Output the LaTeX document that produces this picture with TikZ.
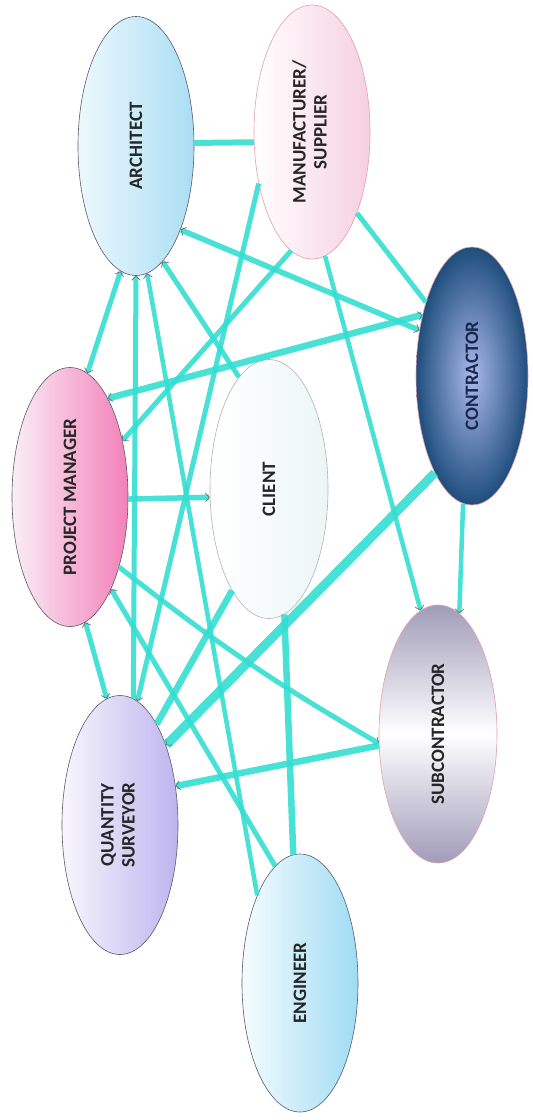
\documentclass[tikz,border=0pt]{standalone}
\usepackage{fontspec}
\usepackage{graphicx}
\setmainfont{Carlito}
\usetikzlibrary{shapes.geometric,arrows.meta}
\definecolor{cy}{RGB}{52,222,210}
\definecolor{bordgray}{RGB}{90,90,110}
\definecolor{bordpink}{RGB}{226,160,170}
\tikzset{
  gb/.tip={Straight Barb[length=4pt,width=9pt,line width=0.7pt 0,color=gray!80!black]},
  bub/.style={ellipse, inner sep=0pt, minimum width=116pt, minimum height=259pt,
    line width=0.6pt, font=\fontsize{19}{21}\selectfont\bfseries, text=black!85},
  con/.style={draw=cy, line width=5pt, draw opacity=0.9},
}
\begin{document}
\begin{tikzpicture}[x=1pt,y=-1pt]
\useasboundingbox[fill=white] (0,0) rectangle (533,1120);
% nodes
\node[bub, draw=bordgray, left color={rgb,255:red,236;green,249;blue,253}, right color={rgb,255:red,170;green,222;blue,244}] (A) at (136,146) {\rotatebox{90}{ARCHITECT}};
\node[bub, draw=bordpink, left color=white, right color={rgb,255:red,246;green,208;blue,224}, minimum height=254pt] (M) at (312,132) {\rotatebox{90}{\begin{tabular}{@{}c@{}}MANUFACTURER/\\SUPPLIER\end{tabular}}};
\node[bub, draw=bordpink, inner color={rgb,255:red,170;green,184;blue,236}, outer color={rgb,255:red,30;green,78;blue,124}, minimum width=112pt, minimum height=258pt, text={rgb,255:red,26;green,40;blue,80}] (C) at (472,376) {\rotatebox{90}{CONTRACTOR}};
\node[bub, draw=bordgray, left color={rgb,255:red,250;green,238;blue,245}, right color={rgb,255:red,243;green,128;blue,186}] (PM) at (70,497) {\rotatebox{90}{PROJECT MANAGER}};
\node[bub, draw=black!30, left color=white, right color={rgb,255:red,236;green,246;blue,246}, minimum width=118pt] (CL) at (269,489) {\rotatebox{90}{CLIENT}};
\node[bub, draw=bordpink, top color={rgb,255:red,160;green,156;blue,185}, bottom color={rgb,255:red,160;green,156;blue,185}, middle color=white, minimum width=118pt, minimum height=258pt] (S) at (438,734) {\rotatebox{90}{SUBCONTRACTOR}};
\node[bub, draw=bordgray, left color={rgb,255:red,248;green,246;blue,253}, right color={rgb,255:red,190;green,180;blue,238}] (QS) at (120,825) {\rotatebox{90}{\begin{tabular}{@{}c@{}}QUANTITY\\SURVEYOR\end{tabular}}};
\node[bub, draw=bordgray, left color={rgb,255:red,245;green,252;blue,254}, right color={rgb,255:red,160;green,220;blue,245}, minimum height=258pt] (E) at (300,983) {\rotatebox{90}{ENGINEER}};
% connectors
\draw[con, line width=6pt] (A.3) -- (M.190);
\draw[con, -gb] (M.224) -- (QS.82);
\draw[con, -gb] (M.260) -- (PM.47);
\draw[con, line width=4.5pt, -gb] (M.276) -- (S.98);
\draw[con] (M.299) -- (C.122);
\draw[con, line width=5.5pt, gb-gb] (A.298) -- (C.139);
\draw[con, line width=6.5pt, gb-gb] (PM.69) -- (C.129);
\draw[con, gb-gb] (A.263) -- (PM.82);
\draw[con, gb-] (A.270) -- (QS.84);
\draw[con, line width=4.5pt, gb-] (A.275) -- (E.116);
\draw[con, gb-] (A.283) -- (CL.105);
\draw[con, line width=5.5pt, -gb] (PM.358) -- (CL.188);
\draw[con, -gb] (PM.305) to[bend right=4] (S.189);
\draw[con, gb-gb] (PM.277) -- (QS.96);
\draw[con, line width=6.5pt] (CL.250) -- (QS.70);
\draw[con, line width=9pt, -gb] (C.249) -- (QS.60);
\draw[con, line width=6.5pt] (CL.277) -- (E.93);
\draw[con, line width=4.5pt, -gb] (C.266) -- (S.80);
\draw[con, line width=6.5pt, -gb] (S.191) -- (QS.35);
\draw[con, gb-] (PM.294) -- (E.102);
\end{tikzpicture}
\end{document}
